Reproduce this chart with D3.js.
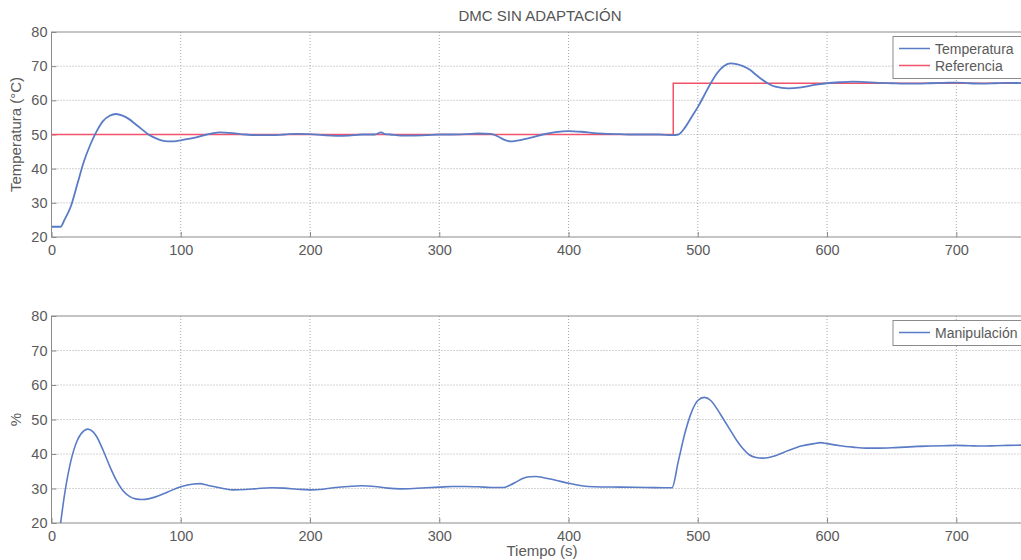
<!DOCTYPE html>
<html>
<head>
<meta charset="utf-8">
<title>DMC sin adaptación</title>
<script src="https://cdn.jsdelivr.net/npm/d3@7"></script>
<style>
  body { margin: 0; background: #fff; overflow: hidden; }
  svg { display: block; font-family: "Liberation Sans", Arial, sans-serif; }
</style>
</head>
<body>
<svg width="1021" height="560"></svg>
<script>
// tiempo (s) y temperatura (°C)
var tTemp = [0, 7, 10, 15, 20, 25, 30, 35, 40, 45, 50, 55, 60, 65, 70, 75, 80, 85, 90, 95, 100, 110, 120, 130, 140, 150, 160, 170, 180, 190, 200, 210, 220, 230, 240, 250, 255, 258, 262, 270, 280, 290, 300, 310, 320, 330, 340, 345, 350, 355, 360, 370, 380, 390, 400, 410, 420, 430, 440, 450, 460, 470, 480, 485, 490, 495, 500, 505, 510, 515, 520, 525, 530, 535, 540, 545, 550, 555, 560, 570, 580, 590, 600, 610, 620, 630, 640, 650, 660, 670, 680, 690, 700, 710, 720, 730, 740, 757];
var temperatura = [23, 23, 25, 29, 35.5, 42, 47, 51, 54, 55.5, 56, 55.5, 54.5, 53, 51.5, 50, 49, 48.3, 48, 48, 48.3, 49, 50, 50.6, 50.4, 50, 49.8, 49.8, 50, 50.2, 50.1, 49.8, 49.6, 49.7, 50, 50, 50.6, 50.1, 50, 49.7, 49.7, 49.8, 50, 50, 50.1, 50.3, 50.2, 49.5, 48.5, 48, 48.2, 49, 50, 50.7, 51, 50.8, 50.4, 50.2, 50.1, 50, 50, 50, 49.8, 50, 52, 55, 58, 61.5, 65, 68, 70, 70.8, 70.6, 70, 69, 67.5, 66, 64.8, 64, 63.5, 63.8, 64.5, 65, 65.3, 65.5, 65.3, 65.1, 65, 64.9, 64.9, 65, 65.1, 65.2, 65, 64.9, 65, 65.1, 65];

// referencia (escalon en t = 481)
var tRef = [0, 481, 481, 757];
var referencia = [50, 50, 65, 65];

// manipulacion (%)
var tMan = [0, 6, 10, 15, 20, 25, 28, 32, 35, 40, 45, 50, 55, 60, 65, 70, 75, 80, 90, 100, 110, 115, 120, 130, 140, 150, 160, 170, 180, 190, 200, 210, 220, 230, 240, 250, 260, 270, 280, 290, 300, 310, 320, 330, 340, 350, 355, 360, 365, 370, 375, 380, 390, 400, 410, 420, 440, 460, 480, 485, 490, 495, 500, 505, 510, 515, 520, 525, 530, 535, 540, 545, 550, 555, 560, 570, 580, 590, 595, 600, 610, 620, 630, 640, 650, 660, 670, 680, 690, 700, 710, 720, 730, 740, 757];
var manipulacion = [0, 17, 28, 38, 44, 46.7, 47.2, 46.5, 45, 41, 36.5, 32.5, 29.5, 27.8, 27, 26.8, 27, 27.5, 29, 30.5, 31.3, 31.4, 31, 30.2, 29.6, 29.7, 30, 30.2, 30.1, 29.8, 29.6, 29.8, 30.3, 30.6, 30.8, 30.6, 30.1, 29.9, 30, 30.2, 30.4, 30.6, 30.6, 30.5, 30.3, 30.3, 31, 32, 33, 33.4, 33.5, 33.2, 32.4, 31.5, 30.8, 30.5, 30.4, 30.3, 30.2, 38, 46, 52, 55.5, 56.4, 55.5, 53, 50, 47, 44, 41.5, 39.7, 39, 38.8, 39, 39.5, 41, 42.3, 43, 43.3, 43, 42.4, 42, 41.7, 41.7, 41.8, 42, 42.2, 42.3, 42.4, 42.5, 42.4, 42.3, 42.4, 42.5, 42.6];

var xTicks = [0, 100, 200, 300, 400, 500, 600, 700];
var yTicks = [20, 30, 40, 50, 60, 70, 80];

var azul = "#5a7bc6", rojo = "#f2536b", gris = "#8a8a8a", texto = "#5a5a5a";

var svg = d3.select("svg");
var x = d3.scaleLinear().domain([0, 757]).range([51.5, 1030]);

function panel(top, bottom, ylabel, series, legend, clipId) {
  var y = d3.scaleLinear().domain([20, 80]).range([bottom, top]);
  var g = svg.append("g");

  g.append("clipPath").attr("id", clipId)
    .append("rect").attr("x", x(0)).attr("y", top).attr("width", x(757) - x(0)).attr("height", bottom - top);

  // rejilla punteada
  g.append("g").selectAll("line").data(xTicks.slice(1)).enter().append("line")
    .attr("x1", d => x(d)).attr("x2", d => x(d)).attr("y1", top).attr("y2", bottom)
    .attr("stroke", "#a8a8a8").attr("stroke-width", 1).attr("stroke-dasharray", "1,2");
  g.append("g").selectAll("line").data(yTicks.slice(1, -1)).enter().append("line")
    .attr("x1", x(0)).attr("x2", x(757)).attr("y1", d => y(d)).attr("y2", d => y(d))
    .attr("stroke", "#a8a8a8").attr("stroke-width", 1).attr("stroke-dasharray", "1,2");

  // ejes
  var ax = g.append("g").attr("transform", "translate(0," + bottom + ")")
    .call(d3.axisBottom(x).tickValues(xTicks).tickSize(-5).tickPadding(9));
  var ay = g.append("g").attr("transform", "translate(" + x(0) + ",0)")
    .call(d3.axisLeft(y).tickValues(yTicks).tickSize(-5).tickPadding(4));
  [ax, ay].forEach(function (a) {
    a.select(".domain").remove();
    a.selectAll("line").attr("stroke", gris);
    a.selectAll("text").attr("fill", texto).attr("font-size", 14.5);
  });
  ax.selectAll("text").attr("dy", "0.6em");

  g.append("rect").attr("x", x(0)).attr("y", top).attr("width", x(757) - x(0)).attr("height", bottom - top)
    .attr("fill", "none").attr("stroke", gris).attr("stroke-width", 1);

  g.append("text").attr("transform", "translate(21," + ((top + bottom) / 2) + ") rotate(-90)")
    .attr("text-anchor", "middle").attr("fill", texto).attr("font-size", 15).text(ylabel);

  // series
  series.forEach(function (s) {
    var pts = d3.zip(s.t, s.v);
    g.append("path").datum(pts)
      .attr("clip-path", "url(#" + clipId + ")")
      .attr("fill", "none").attr("stroke", s.color).attr("stroke-width", s.w)
      .attr("d", d3.line().x(d => x(d[0])).y(d => y(d[1])).curve(s.curve));
  });

  // leyenda
  var lg = g.append("g").attr("transform", "translate(893," + (top + 4.5) + ")");
  lg.append("rect").attr("width", 140).attr("height", legend.length * 17 + 8)
    .attr("fill", "#fff").attr("stroke", gris).attr("stroke-width", 1);
  legend.forEach(function (l, i) {
    var yy = 12 + i * 17;
    lg.append("line").attr("x1", 6).attr("x2", 37).attr("y1", yy).attr("y2", yy)
      .attr("stroke", l.color).attr("stroke-width", 1.5);
    lg.append("text").attr("x", 42).attr("y", yy + 5).attr("fill", texto).attr("font-size", 14).text(l.name);
  });
}

svg.append("text").attr("x", 540).attr("y", 21).attr("text-anchor", "middle")
  .attr("fill", "#555").attr("font-size", 15).text("DMC SIN ADAPTACIÓN");

panel(32, 237, "Temperatura (°C)", [
  { t: tRef, v: referencia, color: rojo, w: 1.5, curve: d3.curveLinear },
  { t: tTemp, v: temperatura, color: azul, w: 1.8, curve: d3.curveMonotoneX }
], [{ name: "Temperatura", color: azul }, { name: "Referencia", color: rojo }], "c1");

panel(316, 523, "%", [
  { t: tMan, v: manipulacion, color: azul, w: 1.6, curve: d3.curveMonotoneX }
], [{ name: "Manipulación", color: azul }], "c2");

svg.append("text").attr("x", 542).attr("y", 556).attr("text-anchor", "middle")
  .attr("fill", texto).attr("font-size", 15).text("Tiempo (s)");
</script>
</body>
</html>
